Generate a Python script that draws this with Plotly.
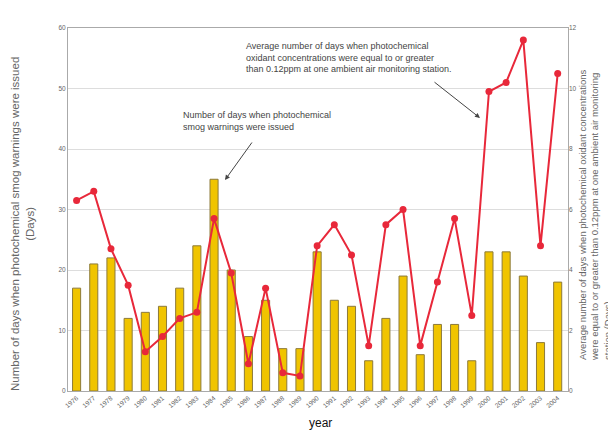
import plotly.graph_objects as go

years = list(range(1976, 2005))

# days with photochemical smog warnings (left axis)
warning_days = [17, 21, 22, 12, 13, 14, 17, 24, 35, 20, 9, 15, 7, 7,
                23, 15, 14, 5, 12, 19, 6, 11, 11, 5, 23, 23, 19, 8, 18]

# avg days oxidant >= 0.12ppm per station (right axis)
oxidant_days = [6.3, 6.6, 4.7, 3.5, 1.3, 1.8, 2.4, 2.6, 5.7, 3.9, 0.9, 3.4, 0.6, 0.5,
                4.8, 5.5, 4.5, 1.5, 5.5, 6.0, 1.5, 3.6, 5.7, 2.5, 9.9, 10.2, 11.6, 4.8, 10.5]

left_ticks = [0, 10, 20, 30, 40, 50, 60]
right_ticks = [0, 2, 4, 6, 8, 10, 12]

FONT = "Liberation Sans, Arial"

fig = go.Figure()
fig.add_trace(go.Bar(x=years, y=warning_days, width=0.47,
                     marker=dict(color="#F0C400", line=dict(color="#8C7A3A", width=1))))
fig.add_trace(go.Scatter(x=years, y=oxidant_days, yaxis="y2", mode="lines+markers",
                         line=dict(color="#E8283A", width=2),
                         marker=dict(color="#E8283A", size=7)))

small = dict(family=FONT, size=6.5, color="#666")

fig.update_layout(
    width=616, height=432,
    margin=dict(l=60, r=56, t=20, b=49),
    paper_bgcolor="white", plot_bgcolor="white",
    showlegend=False,
    xaxis=dict(range=[1975.5, 2004.6], tickmode="array", tickvals=years,
               ticktext=[str(y) for y in years], tickangle=-40, tickfont=small,
               showgrid=False, showline=True, linecolor="#aaa", mirror=True),
    yaxis=dict(range=[0, 60], tickvals=left_ticks, tickfont=small,
               showgrid=True, gridcolor="#ddd", showline=True, linecolor="#aaa", mirror=True,
               zeroline=False, ticks=""),
    yaxis2=dict(range=[0, 12], tickvals=right_ticks, tickfont=small, overlaying="y", side="right",
                showgrid=False, zeroline=False),
)

# axis titles placed as rotated annotations
fig.add_annotation(xref="paper", yref="paper", x=(14 - 60) / 500, y=(383 - 216) / 363,
                   xanchor="center", yanchor="middle", textangle=-90, showarrow=False,
                   font=dict(family=FONT, size=11.5, color="#666"), align="center",
                   text="Number of days when photochemical smog warnings were issued<br>(Days)")
fig.add_annotation(xref="paper", yref="paper", x=(587 - 60) / 500, y=(383 - 207) / 363,
                   xanchor="center", yanchor="middle", textangle=-90, showarrow=False,
                   font=dict(family=FONT, size=9.5, color="#666"), align="left",
                   text="Average number of days when photochemical oxidant concentrations<br>"
                        "were equal to or greater than 0.12ppm at one ambient air monitoring<br>"
                        "station (Days)")
fig.add_annotation(xref="paper", yref="paper", x=(312 - 60) / 500, y=(383 - 415) / 363,
                   xanchor="center", yanchor="middle", showarrow=False,
                   font=dict(family=FONT, size=12, color="#111"), text="year")

note = dict(family=FONT, size=9, color="#444")
fig.add_annotation(xref="paper", yref="paper", x=(236 - 60) / 500, y=(383 - 31) / 363,
                   xanchor="left", yanchor="top", showarrow=False, align="left", font=note,
                   text="Average number of days when photochemical<br>oxidant concentrations were equal to or greater<br>than 0.12ppm at one ambient air monitoring station.")
fig.add_annotation(xref="paper", yref="paper", x=(472 - 60) / 500, y=(383 - 110) / 363,
                   ax=-47, ay=-37, text="", showarrow=True, arrowhead=2, arrowsize=1,
                   arrowwidth=1, arrowcolor="#444")
fig.add_annotation(xref="paper", yref="paper", x=(173 - 60) / 500, y=(383 - 100) / 363,
                   xanchor="left", yanchor="top", showarrow=False, align="left", font=note,
                   text="Number of days when photochemical<br>smog warnings were issued")
fig.add_annotation(xref="paper", yref="paper", x=(217 - 60) / 500, y=(383 - 172) / 363,
                   ax=28, ay=-39, text="", showarrow=True, arrowhead=2, arrowsize=1,
                   arrowwidth=1, arrowcolor="#444")

fig.write_html("out.html")
